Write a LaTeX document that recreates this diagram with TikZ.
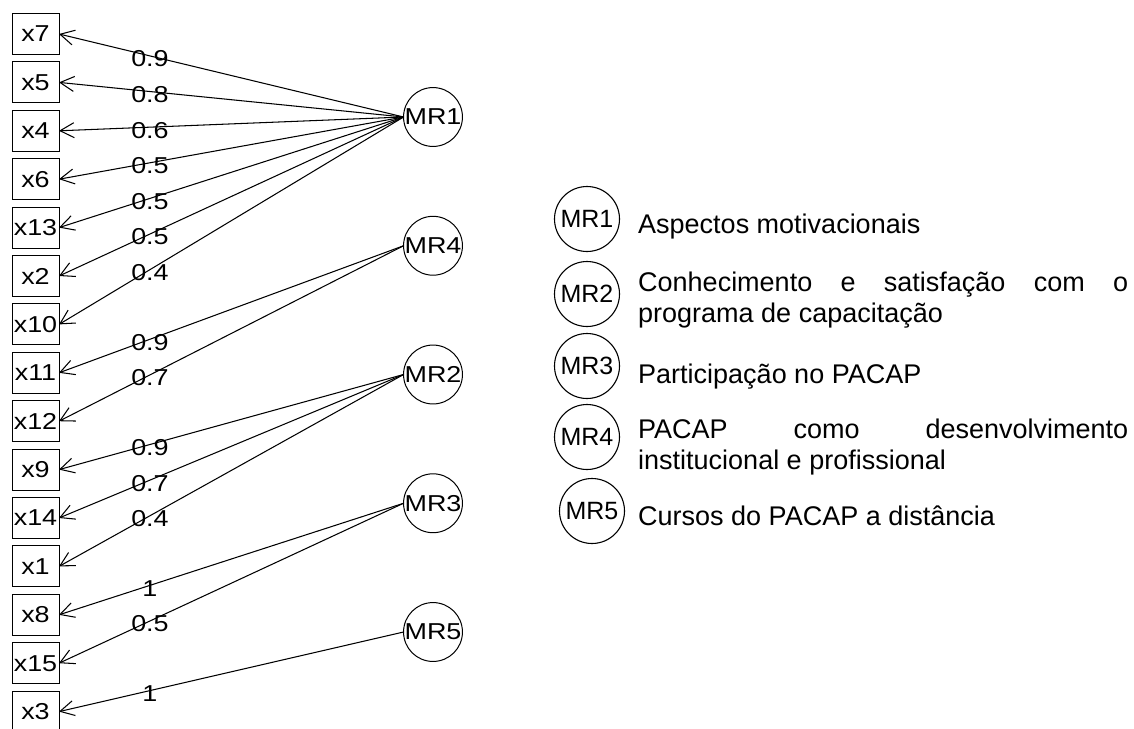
\documentclass[tikz,border=0pt]{standalone}
\usepackage{fontspec}
\setmainfont{Liberation Sans}
\usepackage{graphicx}
\usetikzlibrary{arrows.meta}
\newcommand{\stx}[1]{\scalebox{1.17}[1]{#1}}
\begin{document}
\begin{tikzpicture}[x=1pt,y=-1pt,
 obs/.style={draw, line width=1pt, minimum width=47pt, minimum height=41pt, inner sep=0pt, outer sep=0pt, font=\fontsize{23}{27}\selectfont},
 fac/.style={draw, circle, line width=1pt, minimum size=58pt, inner sep=0pt, outer sep=0pt, font=\fontsize{23}{27}\selectfont},
 lbl/.style={inner sep=0pt, font=\fontsize{23}{27}\selectfont, yshift=-3pt},
 ld/.style={line width=1.05pt, -{Straight Barb[length=14pt,width=15pt,line width=1.05pt]}},
 lfac/.style={draw, circle, line width=1.1pt, minimum size=65pt, inner sep=0pt, font=\fontsize{25}{29}\selectfont},
 ltxt/.style={inner sep=0pt, font=\fontsize{27}{31}\selectfont, align=left}
]
\useasboundingbox (0,0) rectangle (1134,728);
% observed variables
\node[obs] (x7)  at (35.5,34)    {\stx{x7}};
\node[obs] (x5)  at (35.5,82.4)  {\stx{x5}};
\node[obs] (x4)  at (35.5,130.8) {\stx{x4}};
\node[obs] (x6)  at (35.5,179.2) {\stx{x6}};
\node[obs] (x13) at (35.5,227.6) {\stx{x13}};
\node[obs] (x2)  at (35.5,276)   {\stx{x2}};
\node[obs] (x10) at (35.5,324.4) {\stx{x10}};
\node[obs] (x11) at (35.5,372.8) {\stx{x11}};
\node[obs] (x12) at (35.5,421.2) {\stx{x12}};
\node[obs] (x9)  at (35.5,469.6) {\stx{x9}};
\node[obs] (x14) at (35.5,518)   {\stx{x14}};
\node[obs] (x1)  at (35.5,566.4) {\stx{x1}};
\node[obs] (x8)  at (35.5,614.8) {\stx{x8}};
\node[obs] (x15) at (35.5,663.2) {\stx{x15}};
\node[obs] (x3)  at (35.5,711.6) {\stx{x3}};
% factors
\node[fac] (MR1) at (433,117)    {\stx{MR1}};
\node[fac] (MR4) at (433,245.75) {\stx{MR4}};
\node[fac] (MR2) at (433,374.5)  {\stx{MR2}};
\node[fac] (MR3) at (433,503.25) {\stx{MR3}};
\node[fac] (MR5) at (433,632)    {\stx{MR5}};
% loadings
\draw[ld] (MR1.west) -- node[lbl,pos=0.736]{\stx{0.9}} (x7.east);
\draw[ld] (MR1.west) -- node[lbl,pos=0.736]{\stx{0.8}} (x5.east);
\draw[ld] (MR1.west) -- node[lbl,pos=0.736]{\stx{0.6}} (x4.east);
\draw[ld] (MR1.west) -- node[lbl,pos=0.736]{\stx{0.5}} (x6.east);
\draw[ld] (MR1.west) -- node[lbl,pos=0.736]{\stx{0.5}} (x13.east);
\draw[ld] (MR1.west) -- node[lbl,pos=0.736]{\stx{0.5}} (x2.east);
\draw[ld] (MR1.west) -- node[lbl,pos=0.736]{\stx{0.4}} (x10.east);
\draw[ld] (MR4.west) -- node[lbl,pos=0.736]{\stx{0.9}} (x11.east);
\draw[ld] (MR4.west) -- node[lbl,pos=0.736]{\stx{0.7}} (x12.east);
\draw[ld] (MR2.west) -- node[lbl,pos=0.736]{\stx{0.9}} (x9.east);
\draw[ld] (MR2.west) -- node[lbl,pos=0.736]{\stx{0.7}} (x14.east);
\draw[ld] (MR2.west) -- node[lbl,pos=0.736]{\stx{0.4}} (x1.east);
\draw[ld] (MR3.west) -- node[lbl,pos=0.736]{\stx{1}} (x8.east);
\draw[ld] (MR3.west) -- node[lbl,pos=0.736]{\stx{0.5}} (x15.east);
\draw[ld] (MR5.west) -- node[lbl,pos=0.736]{\stx{1}} (x3.east);
% legend
\node[lfac] (L1) at (587,219) {MR1};
\node[lfac] (L2) at (587,294) {MR2};
\node[lfac] (L3) at (587,366) {MR3};
\node[lfac] (L4) at (587,437) {MR4};
\node[lfac] (L5) at (592,511) {MR5};
\node[ltxt, anchor=base west] (T1) at (638,233) {Aspectos motivacionais};
\node[ltxt, anchor=west] (T2) at (638,300.5) {\makebox[490pt][s]{Conhecimento e satisfação com o}\\programa de capacitação};
\node[ltxt, anchor=base west] (T3) at (638,383) {Participação no PACAP};
\node[ltxt, anchor=west] (T4) at (638,446.7) {\makebox[490pt][s]{PACAP como desenvolvimento}\\institucional e profissional};
\node[ltxt, anchor=base west] (T5) at (638,525) {Cursos do PACAP a distância};
\end{tikzpicture}
\end{document}
